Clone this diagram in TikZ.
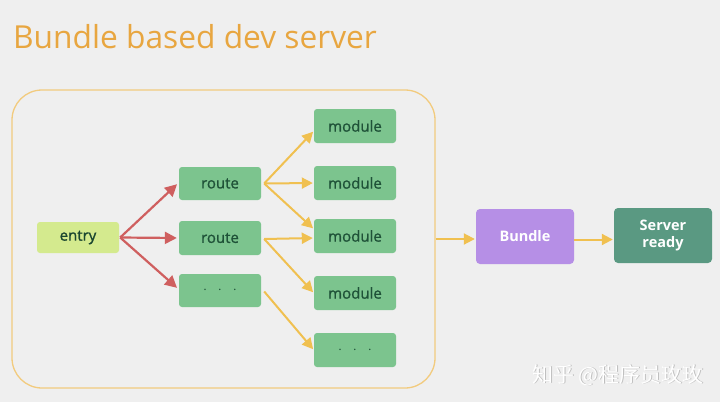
\documentclass[tikz,border=0pt]{standalone}
\usepackage{fontspec}
\setmainfont{Open Sans}
\newfontfamily\medfont[FakeBold=1.2]{Open Sans}
\newfontfamily\cjk{Noto Sans CJK SC}
\usetikzlibrary{arrows.meta}
\definecolor{bg}{HTML}{EFEFEF}
\definecolor{titleor}{HTML}{E8A640}
\definecolor{frameor}{HTML}{F2CB7E}
\definecolor{entryfill}{HTML}{D4EA8E}
\definecolor{greenfill}{HTML}{7CC48E}
\definecolor{greentext}{HTML}{1F5238}
\definecolor{redarrow}{HTML}{CF5F5F}
\definecolor{orarrow}{HTML}{F0C050}
\definecolor{bundlefill}{HTML}{B68FE6}
\definecolor{serverfill}{HTML}{5A9982}
\tikzset{
  box/.style={rounded corners=3pt, inner sep=0pt, font=\medfont\fontsize{15}{17}\selectfont, text=greentext},
  gbox/.style={box, fill=greenfill, minimum width=82pt, minimum height=34pt},
  ebox/.style={box, fill=entryfill, minimum width=82pt, minimum height=31pt, text=greentext!85!black},
  bigbox/.style={rounded corners=4pt, inner sep=0pt, minimum width=98pt, minimum height=55pt, text=white, font=\bfseries\fontsize{14.5}{17}\selectfont, align=center},
  redarr/.style={draw=redarrow, line width=2.2pt, -{Triangle[length=12pt,width=12pt]}, shorten >=1pt},
  orarr/.style={draw=orarrow, line width=2pt, -{Triangle[length=11pt,width=11pt]}, shorten >=1pt},
}
\begin{document}
\begin{tikzpicture}[x=1pt,y=-1pt]
\fill[bg] (0,0) rectangle (720,402);
\useasboundingbox (0,0) rectangle (720,402);
\node[anchor=base west, inner sep=0pt, text=titleor, font=\fontsize{31.7}{34}\selectfont] (title) at (13,48) {Bundle based dev server};
\node[draw=frameor, line width=1.3pt, rounded corners=30pt, minimum width=423pt, minimum height=298pt, inner sep=0pt] (frame) at (223.5,239) {};
\node[ebox] (entry) at (78,237.5) {entry};
\node[gbox, minimum height=33pt] (r1) at (220,183.5) {route};
\node[gbox] (r2) at (220,238) {route};
\node[gbox, minimum height=33pt] (r3) at (220,290.5) {$\cdot\ \ \cdot\ \ \cdot$};
\node[gbox] (m1) at (355,126) {module};
\node[gbox] (m2) at (355,183) {module};
\node[gbox] (m3) at (355,236) {module};
\node[gbox] (m4) at (355,293) {module};
\node[gbox] (m5) at (355,350) {$\cdot\ \ \cdot\ \ \cdot$};
\node[bigbox, fill=bundlefill] (bundle) at (525,236.5) {Bundle};
\node[bigbox, fill=serverfill] (server) at (663,235.5) {Server\\ready};
\coordinate (es) at ([xshift=1pt]entry.east);
\draw[redarr] (es) -- ([xshift=-1pt]r1.west);
\draw[redarr] (es) -- ([xshift=-1pt]r2.west);
\draw[redarr] (es) -- ([xshift=-1pt,yshift=2pt]r3.west);
\coordinate (o1) at ([xshift=3pt]r1.east);
\coordinate (o2) at ([xshift=3pt,yshift=-1pt]r2.east);
\coordinate (o3) at ([xshift=3pt,yshift=-1pt]r3.east);
\draw[orarr] (o1) -- ([yshift=-5pt]m1.west);
\draw[orarr] (o1) -- (m2.west);
\draw[orarr] (o1) -- ([yshift=7pt]m3.west);
\draw[orarr] (o2) -- ([yshift=-2pt]m3.west);
\draw[orarr] (o2) -- (m4.west);
\draw[orarr] (o3) -- (m5.west);
\draw[orarr] (frame.east) -- (frame.east -| bundle.west);
\draw[orarr] ([yshift=-3pt]bundle.east) -- ([yshift=-3pt]bundle.east -| server.west);
\node[anchor=base east, inner sep=0pt, text=black!25, font=\cjk\fontsize{21}{22}\selectfont] (wm0) at (704.8,382.8) {知乎 @程序员玫玫};
\node[anchor=base east, inner sep=0pt, text=white, font=\cjk\fontsize{21}{22}\selectfont] (wm) at (704,382) {知乎 @程序员玫玫};
\end{tikzpicture}
\end{document}
